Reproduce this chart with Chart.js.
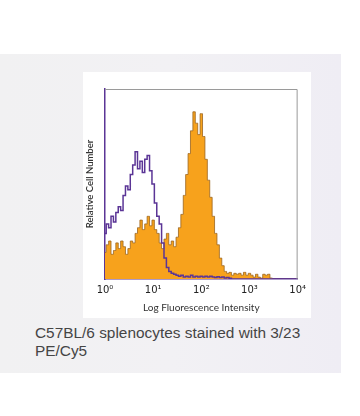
<!DOCTYPE html>
<html>
<head>
<meta charset="utf-8">
<script src="https://cdn.jsdelivr.net/npm/chart.js@4.4.1/dist/chart.umd.min.js"></script>
<style>
  html, body { margin: 0; padding: 0; background: #ffffff; width: 360px; height: 416px; overflow: hidden; }
  #panel { position: absolute; left: 0; top: 54px; width: 341px; height: 319px;
           background: linear-gradient(90deg, #f1f1f2 0%, #f2f1f4 50%, #efedf4 100%); }
  #card { position: absolute; left: 83px; top: 72px; width: 228px; height: 246px; background: #ffffff; }
  #caption { position: absolute; left: 35px; top: 324px; width: 310px;
             font-family: "Liberation Sans", Arial, sans-serif; font-size: 15.4px; line-height: 18px; color: #454545; }
</style>
</head>
<body>
<div id="panel"></div>
<div id="card"><canvas id="c" width="228" height="246"></canvas></div>
<div id="caption">C57BL/6 splenocytes stained with 3/23<br>PE/Cy5</div>
<script>
// log10 of fluorescence intensity at each histogram bin
const logBins = [0.00,0.05,0.10,0.15,0.20,0.25,0.30,0.35,0.40,0.45,0.50,0.55,0.60,0.65,0.70,0.75,0.80,0.85,0.90,0.95,
  1.00,1.05,1.10,1.15,1.20,1.25,1.30,1.35,1.40,1.45,1.50,1.55,1.60,1.65,1.70,1.75,1.80,1.85,1.90,1.95,
  2.00,2.05,2.10,2.15,2.20,2.25,2.30,2.35,2.40,2.45,2.50,2.55,2.60,2.65,2.70,2.75,2.80,2.85,2.90,2.95,
  3.00,3.05,3.10,3.15,3.20,3.25,3.30,3.35,3.40,3.45,3.50,3.55,3.60,3.65,3.70,3.75,3.80,3.85,3.90,3.95,4.00];
// stained sample (orange, filled)
const stainedCounts = [14,18,20,13,15,19,16,20,17,13,16,20,19,24,27,31,26,29,33,28,
  31,26,24,19,16,21,24,18,20,17,22,27,34,44,55,66,78,88,82,76,
  87,75,63,52,43,33,24,18,11,7,4,3,3.5,2,3,2.5,3,2,3.5,2,
  3,2,1,2.5,1,0.5,2.5,2,2.5,0.5,0,0,0,0,0,0,0,0,0,0,0];
// isotype control (purple, line)
const controlCounts = [24,29,27,33,30,35,38,36,44,49,47,55,60,67,58,62,56,63,65,57,
  50,40,33,29,19,11,6,4,3,2.5,2,1.5,2,1,1.5,1,2,1,1.5,1,
  1.5,1,1.5,1,1.5,1,0.8,1.2,0.8,1,0.5,0.8,0.4,0,0,0,0,0,0,0,
  0,0,0,0,0,0,0,0,0,0,0,0,0,0,0,0,0,0,0,0,0];
const tickLabels = ['10\u2070','10\u00B9','10\u00B2','10\u00B3','10\u2074'];
const xTitle = 'Log Fluorescence Intensity';
const yTitle = 'Relative Cell Number';

const frame = {
  id: 'frame',
  afterDatasetsDraw(chart) {
    const a = chart.chartArea, ctx = chart.ctx;
    ctx.save();
    ctx.strokeStyle = '#9a9a9a';
    ctx.lineWidth = 1;
    ctx.beginPath();
    ctx.moveTo(a.left, a.top + 0.5);
    ctx.lineTo(a.right - 0.5, a.top + 0.5);
    ctx.lineTo(a.right - 0.5, a.bottom);
    ctx.stroke();
    ctx.restore();
  }
};

new Chart(document.getElementById('c'), {
  type: 'line',
  data: {
    datasets: [
      {
        label: 'Control',
        data: logBins.map((x, i) => ({x, y: controlCounts[i]})),
        borderColor: '#5b3596',
        borderWidth: 1.5,
        fill: false,
        pointRadius: 0,
        stepped: 'middle',
        order: 0
      },
      {
        label: '3/23 PE/Cy5',
        data: logBins.map((x, i) => ({x, y: stainedCounts[i]})),
        borderColor: '#9a6420',
        borderWidth: 0.8,
        backgroundColor: '#f7a21c',
        fill: 'origin',
        pointRadius: 0,
        stepped: 'middle',
        order: 1
      }
    ]
  },
  options: {
    responsive: false,
    animation: false,
    layout: { padding: { top: 17, right: 12, left: 0, bottom: 0 } },
    plugins: { legend: { display: false }, tooltip: { enabled: false } },
    scales: {
      x: {
        type: 'linear', min: 0, max: 4,
        grid: { display: false, drawTicks: false },
        border: { color: '#5b3596', width: 1.5 },
        ticks: { stepSize: 1, padding: 5, color: '#222', font: { family: 'DejaVu Sans', size: 10 },
                 callback: (v) => tickLabels[v] },
        title: { display: true, text: xTitle, color: '#333', font: { family: 'Lato', size: 10 },
                 padding: { top: 0, bottom: 4 } },
        afterFit: (s) => { s.height = 39; }
      },
      y: {
        min: 0, max: 100,
        grid: { display: false, drawTicks: false },
        border: { color: '#5b3596', width: 1.5 },
        ticks: { display: false },
        title: { display: true, text: yTitle, color: '#333', font: { family: 'Lato', size: 9.5, weight: '600' },
                 padding: { top: 1, bottom: 0 } },
        afterFit: (s) => { s.width = 22; }
      }
    }
  },
  plugins: [frame]
});
</script>
</body>
</html>
